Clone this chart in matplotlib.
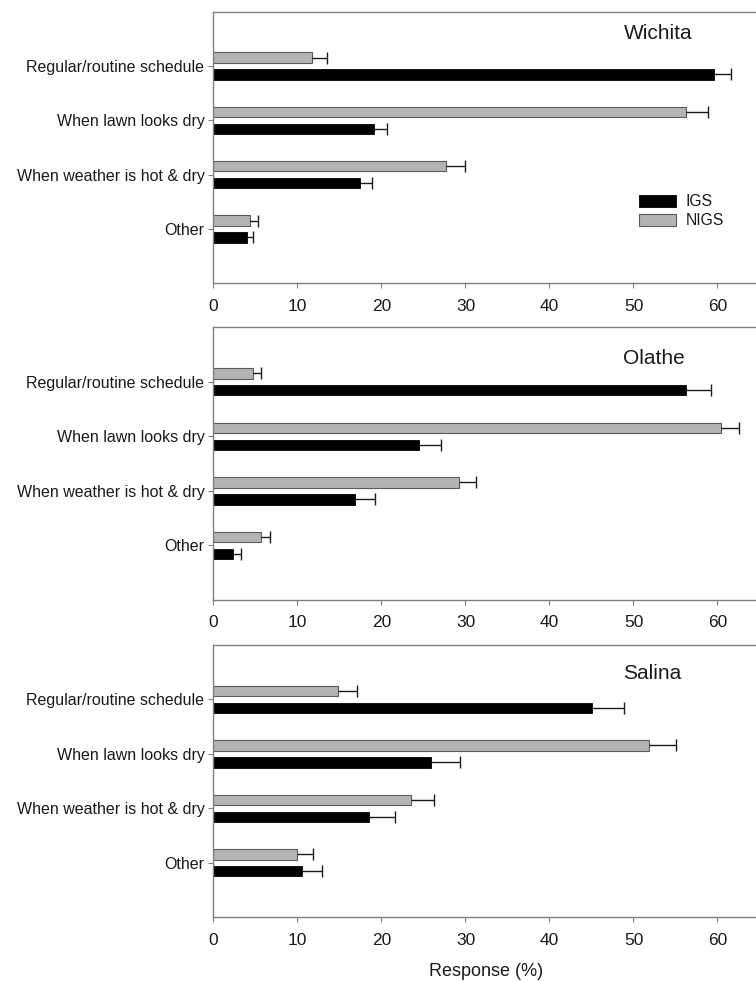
import matplotlib
matplotlib.use('Agg')
import matplotlib.pyplot as plt
import numpy as np

plt.rcParams['font.family'] = ['Liberation Sans', 'DejaVu Sans']

categories = ["Regular/routine schedule", "When lawn looks dry",
              "When weather is hot & dry", "Other"]
sites = ["Wichita", "Olathe", "Salina"]
series = ["IGS", "NIGS"]

wichita_igs = [59.6, 19.1, 17.4, 4.0]
wichita_igs_err = [2.0, 1.5, 1.5, 0.7]
wichita_nigs = [11.7, 56.2, 27.7, 4.35]
wichita_nigs_err = [1.8, 2.7, 2.3, 0.95]

olathe_igs = [56.2, 24.5, 16.9, 2.3]
olathe_igs_err = [3.0, 2.6, 2.3, 1.0]
olathe_nigs = [4.7, 60.4, 29.2, 5.6]
olathe_nigs_err = [1.0, 2.2, 2.0, 1.1]

salina_igs = [45.1, 25.9, 18.5, 10.5]
salina_igs_err = [3.8, 3.5, 3.1, 2.4]
salina_nigs = [14.85, 51.9, 23.5, 9.9]
salina_nigs_err = [2.25, 3.2, 2.7, 1.9]

xticks = [0, 10, 20, 30, 40, 50, 60]
xlabel = "Response (%)"

panels = [
    (wichita_igs, wichita_igs_err, wichita_nigs, wichita_nigs_err),
    (olathe_igs, olathe_igs_err, olathe_nigs, olathe_nigs_err),
    (salina_igs, salina_igs_err, salina_nigs, salina_nigs_err),
]

W, H = 756, 981
fig = plt.figure(figsize=(W / 100, H / 100), dpi=100)

# axes boxes in pixels: (top, bottom)
boxes = [(11.7, 283.3), (327.3, 600.0), (645.0, 917.3)]
left_px, width_px = 213.5, 546.0
title_y = [0.921, 0.886, 0.897]

spine_col = '#808080'
text_col = '#1a1a1a'
gray = '#b4b4b4'
gray_edge = '#5a5a5a'

axes = []
for i, ((top, bot), (igs, igs_e, nigs, nigs_e)) in enumerate(zip(boxes, panels)):
    ax = fig.add_axes([left_px / W, 1 - bot / H, width_px / W, (bot - top) / H])
    axes.append(ax)
    y = np.arange(len(categories))
    off, h = 0.155, 0.19
    b_igs = ax.barh(y + off, igs, height=h, color='black', edgecolor='black',
                    linewidth=0.6, label=series[0], zorder=2)
    b_nigs = ax.barh(y - off, nigs, height=h, color=gray, edgecolor=gray_edge,
                     linewidth=0.8, label=series[1], zorder=2)
    for vals, errs, yy in ((igs, igs_e, y + off), (nigs, nigs_e, y - off)):
        vals = np.asarray(vals)
        errs = np.asarray(errs)
        ax.errorbar(vals, yy, xerr=[np.zeros_like(errs), errs], fmt='none',
                    ecolor='#1a1a1a', elinewidth=1.0, capsize=0, zorder=3)
        ax.plot(vals + errs, yy, ls='none', marker='|', markersize=8.5,
                markeredgewidth=1.0, color='#1a1a1a', zorder=3)
    ax.set_xlim(0, 65)
    ax.set_ylim(len(categories), -1)
    ax.set_xticks(xticks)
    ax.set_xticklabels([str(t) for t in xticks])
    ax.set_yticks(y)
    ax.set_yticklabels(categories)
    ax.tick_params(axis='both', direction='out', length=3.5, width=0.8,
                   color=spine_col, labelcolor=text_col)
    ax.tick_params(axis='x', labelsize=12.5, pad=7.5)
    ax.tick_params(axis='y', labelsize=11.5, pad=3)
    for s in ax.spines.values():
        s.set_color(spine_col)
        s.set_linewidth(1.0)
    ax.text(48.8, title_y[i], sites[i], transform=ax.get_xaxis_transform(),
            ha='left', va='center', fontsize=15, color=text_col)
    if i == 0:
        ax.legend([b_igs, b_nigs], series, loc='upper left',
                  bbox_to_anchor=(0.7656, 0.357), frameon=False, fontsize=11.3,
                  borderpad=0, handlelength=2.36, handleheight=0.76,
                  handletextpad=0.57, labelspacing=0.27, labelcolor=text_col)

fig.text((left_px + width_px * 0.5) / W, 1 - 971 / H, xlabel, ha='center',
         va='center', fontsize=13, color=text_col)

fig.savefig('out.png', dpi=100)
